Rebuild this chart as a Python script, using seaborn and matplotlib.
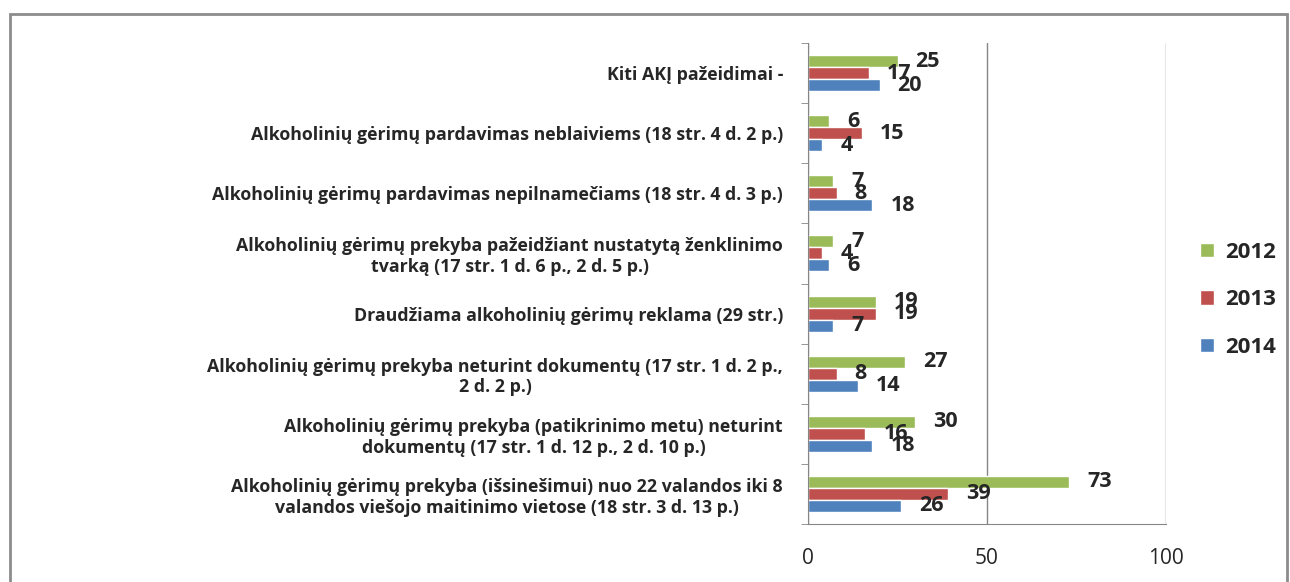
import matplotlib
matplotlib.use("Agg")
import matplotlib.pyplot as plt
import seaborn as sns
import pandas as pd
from matplotlib.patches import Rectangle

categories = [
    "Kiti AKĮ pažeidimai -",
    "Alkoholinių gėrimų pardavimas neblaiviems (18 str. 4 d. 2 p.)",
    "Alkoholinių gėrimų pardavimas nepilnamečiams (18 str. 4 d. 3 p.)",
    "Alkoholinių gėrimų prekyba pažeidžiant nustatytą ženklinimo\ntvarką (17 str. 1 d. 6 p., 2 d. 5 p.)",
    "Draudžiama alkoholinių gėrimų reklama (29 str.)",
    "Alkoholinių gėrimų prekyba neturint dokumentų (17 str. 1 d. 2 p.,\n2 d. 2 p.)",
    "Alkoholinių gėrimų prekyba (patikrinimo metu) neturint\ndokumentų (17 str. 1 d. 12 p., 2 d. 10 p.)",
    "Alkoholinių gėrimų prekyba (išsinešimui) nuo 22 valandos iki 8\nvalandos viešojo maitinimo vietose (18 str. 3 d. 13 p.)",
]
years = ["2012", "2013", "2014"]
v2012 = [25, 6, 7, 7, 19, 27, 30, 73]
v2013 = [17, 15, 8, 4, 19, 8, 16, 39]
v2014 = [20, 4, 18, 6, 7, 14, 18, 26]
colors = ["#9BBB59", "#C0504D", "#4F81BD"]

df = pd.DataFrame({
    "cat": categories * 3,
    "year": [y for y in years for _ in categories],
    "val": v2012 + v2013 + v2014,
})

sns.set_style("white")
plt.rcParams["font.family"] = ["Open Sans", "DejaVu Sans"]

fig = plt.figure(figsize=(12.9, 5.82), dpi=100)
ax = fig.add_axes([808 / 1290, 58 / 582, 358 / 1290, 481 / 582])

sns.barplot(data=df, y="cat", x="val", hue="year", hue_order=years,
            order=categories, palette=colors, orient="h", width=0.6,
            saturation=1, ax=ax, legend=True)

# value labels next to each bar
for cont in ax.containers:
    ax.bar_label(cont, padding=13, fontsize=15.5, fontweight="bold")

ax.set_xlim(0, 100)
ax.set_ylim(len(categories) - 0.5, -0.5)
ax.set_xticks([0, 50, 100])
ax.tick_params(axis="x", labelsize=15, length=5, color="#868686", pad=12)
ax.xaxis.grid(True, color="#868686", linewidth=1)
ax.set_axisbelow(True)
ax.set_xlabel("")
ax.set_ylabel("")

# tick marks between categories, like Excel
ax.set_yticks([i - 0.5 for i in range(len(categories) + 1)], minor=True)
ax.tick_params(axis="y", which="minor", length=5, color="#868686", left=True)
ax.tick_params(axis="y", which="major", length=0, labelsize=12.8, pad=18)
for lbl in ax.get_yticklabels():
    lbl.set_fontweight("bold")
    lbl.set_multialignment("center")

for s in ["top", "right"]:
    ax.spines[s].set_visible(False)
for s in ["left", "bottom"]:
    ax.spines[s].set_color("#868686")

leg = ax.legend(loc="center left", bbox_to_anchor=(1.04, 0.466), frameon=False,
                fontsize=16, handlelength=0.6, handleheight=0.6,
                labelspacing=1.2, handletextpad=0.5)
for t in leg.get_texts():
    t.set_fontweight("bold")

# outer chart border
fig.patches.append(Rectangle((10 / 1290, -0.1), 1277 / 1290, 1.1 - 14 / 582,
                             transform=fig.transFigure, fill=False,
                             edgecolor="#8c8c8c", linewidth=2))

fig.savefig("out.png", dpi=100)
